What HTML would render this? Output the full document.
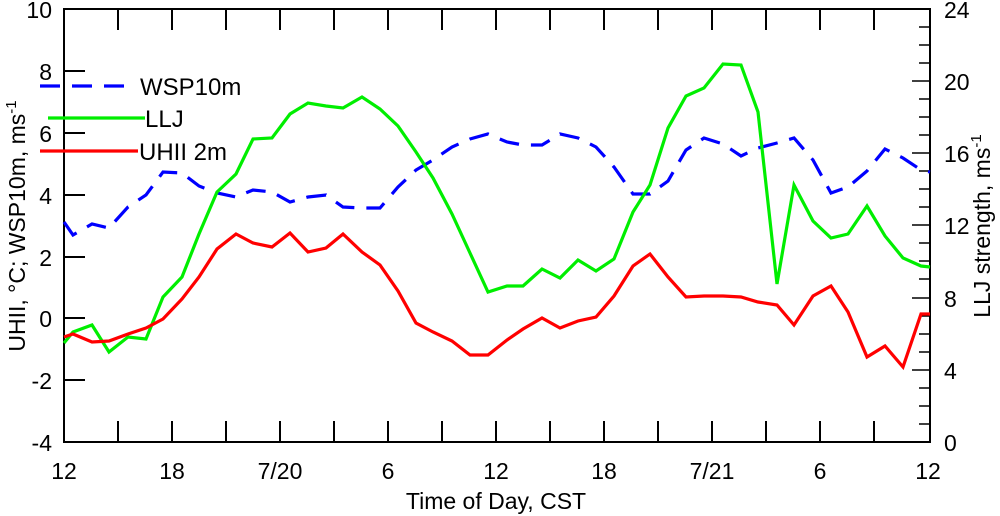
<!DOCTYPE html>
<html><head><meta charset="utf-8"><style>
body{margin:0;background:#fff}
svg{display:block;font-family:"Liberation Sans",sans-serif}
</style></head><body>
<svg width="1000" height="516" viewBox="0 0 1000 516" xmlns="http://www.w3.org/2000/svg">
<rect width="1000" height="516" fill="#fff"/>
<g stroke="#000" stroke-width="2" fill="none">
<rect x="64" y="9" width="866" height="433"/>
<path d="M118,442v-21M172,442v-21M226,442v-21M280,442v-21M334,442v-21M388,442v-21M442,442v-21M496,442v-21M550,442v-21M604,442v-21M658,442v-21M712,442v-21M766,442v-21M820,442v-21M874,442v-21
M118,9v21M172,9v21M226,9v21M280,9v21M334,9v21M388,9v21M442,9v21M496,9v21M550,9v21M604,9v21M658,9v21M712,9v21M766,9v21M820,9v21M874,9v21
M64,71h21M64,133h21M64,195h21M64,257h21M64,318h21M64,380h21"/>
<path stroke-width="1.5" d="M930,27h-11M930,45h-11M930,63h-11M930,81h-18M930,99h-11M930,117h-11M930,135h-11M930,153h-18M930,171h-11M930,189h-11M930,207h-11M930,225h-18M930,243h-11M930,261h-11M930,279h-11M930,298h-18M930,316h-11M930,334h-11M930,352h-11M930,370h-18M930,388h-11M930,406h-11M930,424h-11"/>
</g>
<g font-size="23" fill="#000" text-anchor="end">
<text x="52" y="18">10</text><text x="52" y="80">8</text><text x="52" y="142">6</text><text x="52" y="204">4</text><text x="52" y="266">2</text><text x="52" y="327">0</text><text x="52" y="389">-2</text><text x="52" y="451">-4</text>
</g>
<g font-size="23" fill="#000" text-anchor="start">
<text x="944" y="18">24</text><text x="944" y="90">20</text><text x="944" y="162">16</text><text x="944" y="234">12</text><text x="944" y="307">8</text><text x="944" y="379">4</text><text x="944" y="451">0</text>
</g>
<g font-size="23" fill="#000" text-anchor="middle">
<text x="64" y="479">12</text><text x="172" y="479">18</text><text x="280" y="479">7/20</text><text x="388" y="479">6</text><text x="496" y="479">12</text><text x="604" y="479">18</text><text x="712" y="479">7/21</text><text x="820" y="479">6</text><text x="928" y="479">12</text>
<text x="496" y="509" font-size="23">Time of Day, CST</text>
<text transform="translate(25,226) rotate(-90)" font-size="23">UHII, °C; WSP10m, ms<tspan dy="-9" font-size="15">-1</tspan></text>
<text transform="translate(990,226) rotate(-90)" font-size="23">LLJ strength, ms<tspan dy="-9" font-size="15">-1</tspan></text>
</g>
<g fill="none" stroke-width="3.2" stroke-linejoin="miter">
<polyline stroke="#0000ff" stroke-dasharray="20,12" points="64,222 73,235 92,224 109,228 128,207 146,195 163,172 182,173 199,186 217,193 236,197 253,190 272,192 290,202 308,197 326,195 343,207 362,208 380,208 398,187 416,170 433,160 452,147 470,139 488,134 507,142 523,145 542,145 560,134 578,138 596,147 614,167 633,194 650,194 668,181 686,150 704,138 723,144 741,156 758,148 777,143 794,138 813,160 831,193 848,187 867,171 885,149 903,158 921,170 930,172"/>
<polyline stroke="#00ee00" points="64,343 73,332 92,325 109,352 128,337 146,339 163,297 182,277 199,234 217,192 236,174 253,139 272,138 290,114 308,103 326,106 343,108 362,97 380,109 398,126 416,152 433,178 452,214 470,253 488,292 507,286 523,286 542,269 560,278 578,260 596,271 614,259 633,212 650,185 668,128 686,96 704,88 723,64 741,65 758,112 777,284 794,185 813,221 831,238 848,234 867,206 885,236 903,258 921,266 930,267"/>
<polyline stroke="#ff0000" points="64,337 73,334 92,342 109,341 128,334 146,328 163,319 182,299 199,277 217,249 236,234 253,243 272,247 290,233 308,252 326,248 343,234 362,252 380,265 398,291 416,323 433,332 452,341 470,355 488,355 507,340 523,329 542,318 560,328 578,321 596,317 614,296 633,266 650,254 668,277 686,297 704,296 723,296 741,297 758,302 777,305 794,325 813,296 831,286 848,312 867,357 885,346 903,367 921,314 930,314"/>
</g>
<g stroke-width="3.2">
<line x1="40" y1="86" x2="124" y2="86" stroke="#0000ff" stroke-dasharray="20,12"/>
<line x1="48" y1="118" x2="145" y2="118" stroke="#00ee00"/>
<line x1="40" y1="151" x2="138" y2="151" stroke="#ff0000"/>
</g>
<g font-size="24" fill="#000">
<text x="140" y="95">WSP10m</text>
<text x="145" y="127">LLJ</text>
<text x="139" y="160">UHII 2m</text>
</g>
</svg>
</body></html>
